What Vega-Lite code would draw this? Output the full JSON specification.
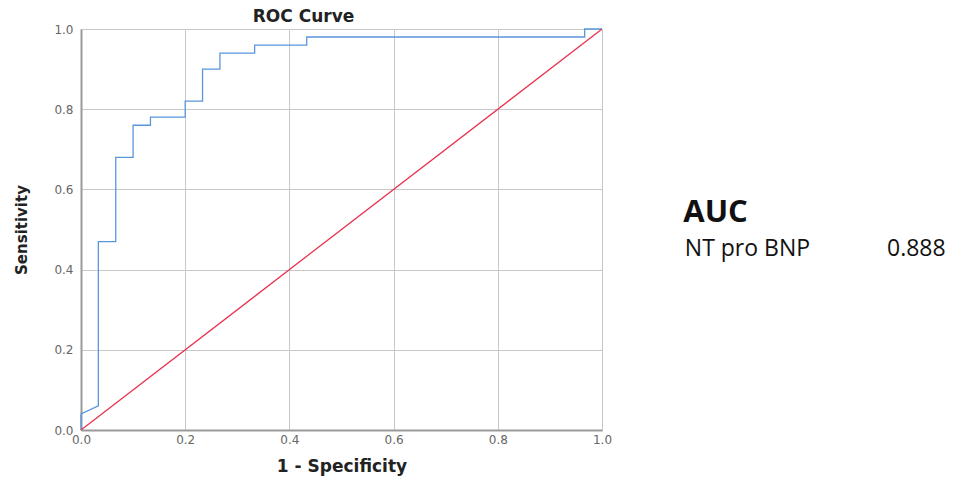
{
  "$schema": "https://vega.github.io/schema/vega-lite/v6.json",
  "autosize": {"type": "none"},
  "width": 521,
  "height": 401,
  "padding": {"left": 81, "top": 29, "right": 362, "bottom": 53},
  "background": "white",
  "title": {"text": "ROC Curve", "font": "DejaVu Sans", "fontSize": 17, "fontWeight": "bold", "color": "#222", "anchor": "middle", "dx": -38, "offset": -3},
  "config": {
    "view": {"stroke": "#c8c8c8", "strokeWidth": 1},
    "axis": {"labelFont": "DejaVu Sans", "labelFontSize": 12, "labelColor": "#666", "labelFlush": false, "titleFont": "DejaVu Sans", "titleFontWeight": "bold", "titleColor": "#222", "gridColor": "#c8c8c8", "gridWidth": 1, "domainColor": "#999", "domainWidth": 2, "ticks": false}
  },
  "datasets": {
    "roc": [
      {"step": 1, "fpr": 0, "tpr": 0},
      {"step": 2, "fpr": 0, "tpr": 0.04},
      {"step": 3, "fpr": 0.0333, "tpr": 0.06},
      {"step": 4, "fpr": 0.0333, "tpr": 0.47},
      {"step": 5, "fpr": 0.0667, "tpr": 0.47},
      {"step": 6, "fpr": 0.0667, "tpr": 0.68},
      {"step": 7, "fpr": 0.1, "tpr": 0.68},
      {"step": 8, "fpr": 0.1, "tpr": 0.76},
      {"step": 9, "fpr": 0.1333, "tpr": 0.76},
      {"step": 10, "fpr": 0.1333, "tpr": 0.78},
      {"step": 11, "fpr": 0.2, "tpr": 0.78},
      {"step": 12, "fpr": 0.2, "tpr": 0.82},
      {"step": 13, "fpr": 0.2333, "tpr": 0.82},
      {"step": 14, "fpr": 0.2333, "tpr": 0.9},
      {"step": 15, "fpr": 0.2667, "tpr": 0.9},
      {"step": 16, "fpr": 0.2667, "tpr": 0.94},
      {"step": 17, "fpr": 0.3333, "tpr": 0.94},
      {"step": 18, "fpr": 0.3333, "tpr": 0.96},
      {"step": 19, "fpr": 0.4333, "tpr": 0.96},
      {"step": 20, "fpr": 0.4333, "tpr": 0.98},
      {"step": 21, "fpr": 0.9667, "tpr": 0.98},
      {"step": 22, "fpr": 0.9667, "tpr": 1},
      {"step": 23, "fpr": 1, "tpr": 1}
    ],
    "ref": [
      {"step": 1, "fpr": 0, "tpr": 0},
      {"step": 2, "fpr": 1, "tpr": 1}
    ],
    "aucHead": [{"x": 1.156, "y": 0.519, "label": "AUC"}],
    "aucRows": [
      {"x": 1.159, "y": 0.434, "label": "NT pro BNP"},
      {"x": 1.547, "y": 0.434, "label": "0.888"}
    ]
  },
  "layer": [
    {
      "data": {"name": "roc"},
      "mark": {"type": "line", "color": "#5a96de", "strokeWidth": 1.3, "interpolate": "linear"},
      "encoding": {
        "x": {"field": "fpr", "type": "quantitative", "scale": {"domain": [0, 1], "nice": false, "zero": true}, "axis": {"title": "1 - Specificity", "titleFontSize": 17, "values": [0, 0.2, 0.4, 0.6, 0.8, 1], "format": ".1f", "labelPadding": 4, "titlePadding": 13}},
        "y": {"field": "tpr", "type": "quantitative", "scale": {"domain": [0, 1], "nice": false}, "axis": {"title": "Sensitivity", "titleFontSize": 15, "values": [0, 0.2, 0.4, 0.6, 0.8, 1], "format": ".1f", "labelPadding": 8, "titlePadding": 24}},
        "order": {"field": "step", "type": "quantitative"}
      }
    },
    {
      "data": {"name": "ref"},
      "mark": {"type": "line", "color": "#e8344f", "strokeWidth": 1.3},
      "encoding": {
        "x": {"field": "fpr", "type": "quantitative"},
        "y": {"field": "tpr", "type": "quantitative"},
        "order": {"field": "step", "type": "quantitative"}
      }
    },
    {
      "data": {"name": "aucHead"},
      "mark": {"type": "text", "align": "left", "baseline": "alphabetic", "font": "Open Sans", "fontSize": 31, "fontWeight": "bold", "color": "#111"},
      "encoding": {
        "x": {"field": "x", "type": "quantitative"},
        "y": {"field": "y", "type": "quantitative"},
        "text": {"field": "label"}
      }
    },
    {
      "data": {"name": "aucRows"},
      "mark": {"type": "text", "align": "left", "baseline": "alphabetic", "font": "Open Sans", "fontSize": 23, "color": "#111"},
      "encoding": {
        "x": {"field": "x", "type": "quantitative"},
        "y": {"field": "y", "type": "quantitative"},
        "text": {"field": "label"}
      }
    }
  ]
}
